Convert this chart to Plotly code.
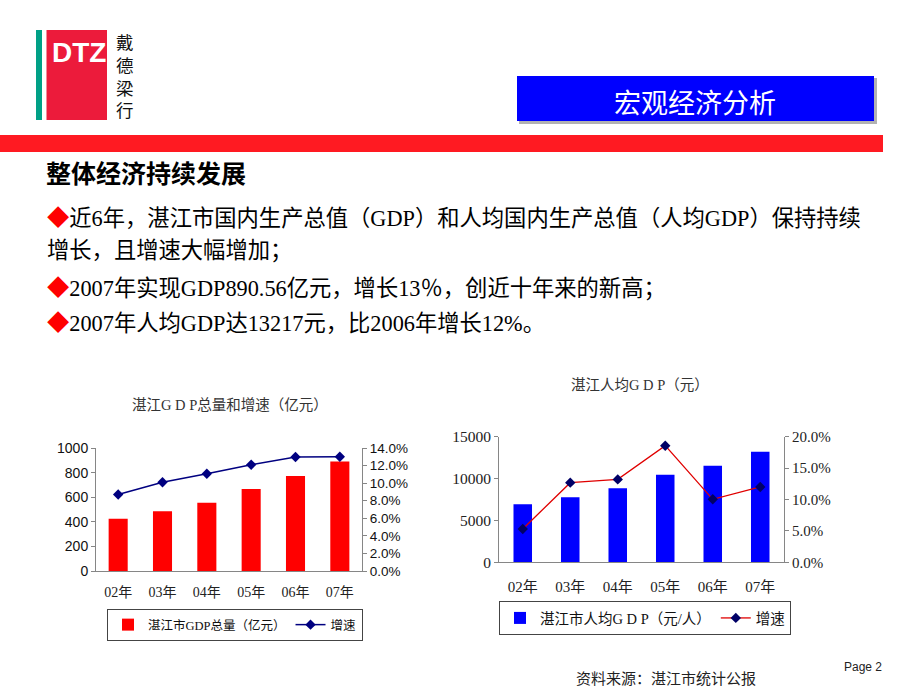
import plotly.graph_objects as go

W, H = 920, 690

def px(x):
    return x / W

def py(y):
    return 1 - y / H

# ---------------- data ----------------
years = ["02年", "03年", "04年", "05年", "06年", "07年"]
gdp_total = [424, 486, 554, 666, 772, 890.56]          # 亿元
gdp_growth = [0.087, 0.101, 0.1107, 0.121, 0.1297, 0.13]
gdp_per_capita = [6923, 7759, 8833, 10464, 11538, 13217]  # 元/人
pc_growth = [0.053, 0.1268, 0.132, 0.1857, 0.1003, 0.12]

left_title = "湛江G D P总量和增速（亿元）"
right_title = "湛江人均G D P（元）"
left_bar_name = "湛江市GDP总量（亿元）"
right_bar_name = "湛江市人均G D P（元/人）"
line_name = "增速"

SERIF = "Liberation Serif, Noto Sans CJK SC, serif"
SANS = "Liberation Sans, Arial, Noto Sans CJK SC, sans-serif"
CJK = "Noto Sans CJK SC, sans-serif"

fig = go.Figure()

# ---------- left chart ----------
fig.add_trace(go.Bar(x=years, y=gdp_total, name=left_bar_name, xaxis="x", yaxis="y",
                     marker=dict(color="#ff0000", line=dict(width=0)), width=0.43,
                     legend="legend"))
fig.add_trace(go.Scatter(x=years, y=gdp_growth, name=line_name, xaxis="x", yaxis="y2",
                         mode="lines+markers", line=dict(color="#000080", width=1.5),
                         marker=dict(symbol="diamond", size=8, color="#000080"),
                         legend="legend"))

# ---------- right chart ----------
fig.add_trace(go.Bar(x=years, y=gdp_per_capita, name=right_bar_name, xaxis="x2", yaxis="y3",
                     marker=dict(color="#0000ff", line=dict(width=0)), width=0.39,
                     legend="legend2"))
fig.add_trace(go.Scatter(x=years, y=pc_growth, name=line_name, xaxis="x2", yaxis="y4",
                         mode="lines+markers", line=dict(color="#e00000", width=1.3),
                         marker=dict(symbol="diamond", size=8, color="#000066"),
                         legend="legend2"))

axis_line = "#868686"

fig.update_layout(
    width=W, height=H, margin=dict(l=0, r=0, t=0, b=0, autoexpand=False),
    paper_bgcolor="white", plot_bgcolor="rgba(0,0,0,0)",
    showlegend=True,
    xaxis=dict(domain=[px(96), px(362)], anchor="y", range=[-0.5, 5.5], type="category",
               showline=True, linecolor=axis_line, ticks="", showgrid=False,
               tickfont=dict(family=SERIF, size=14, color="#222"), ticklabelstandoff=8),
    yaxis=dict(domain=[py(571), py(448)], anchor="x", range=[0, 1000], dtick=200,
               showline=True, linecolor=axis_line, ticks="outside", ticklen=4, tickcolor=axis_line,
               showgrid=False, zeroline=False,
               tickfont=dict(family=SANS, size=14, color="#111")),
    yaxis2=dict(overlaying="y", side="right", anchor="x", range=[0, 0.14], dtick=0.02,
                tickformat=".1%", showline=True, linecolor=axis_line, ticks="outside", ticklen=4,
                tickcolor=axis_line, showgrid=False, zeroline=False,
                tickfont=dict(family=SANS, size=13.5, color="#111")),
    xaxis2=dict(domain=[px(499), px(784)], anchor="y3", range=[-0.5, 5.5], type="category",
                showline=True, linecolor=axis_line, ticks="", showgrid=False,
                tickfont=dict(family=SERIF, size=15, color="#222"), ticklabelstandoff=11),
    yaxis3=dict(domain=[py(562.3), py(436.7)], anchor="x2", range=[0, 15000], dtick=5000,
                tickformat="d",
                showline=True, linecolor=axis_line, ticks="outside", ticklen=4, tickcolor=axis_line,
                showgrid=False, zeroline=False,
                tickfont=dict(family=SERIF, size=15.5, color="#222")),
    yaxis4=dict(overlaying="y3", side="right", anchor="x2", range=[0, 0.2], dtick=0.05,
                tickformat=".1%", showline=True, linecolor=axis_line, ticks="outside", ticklen=4,
                tickcolor=axis_line, showgrid=False, zeroline=False,
                tickfont=dict(family=SERIF, size=15, color="#222")),
    legend=dict(orientation="h", x=px(107), y=py(609), xanchor="left", yanchor="top",
                bordercolor="#444", borderwidth=1, bgcolor="white",
                font=dict(family=SERIF, size=12.5, color="#111"), itemwidth=30,
                tracegroupgap=0),
    legend2=dict(orientation="h", x=px(499), y=py(601), xanchor="left", yanchor="top",
                 bordercolor="#444", borderwidth=1, bgcolor="white",
                 font=dict(family=SERIF, size=14.5, color="#111"), itemwidth=30),
)

shapes = []
# logo
shapes.append(dict(type="rect", xref="paper", yref="paper", x0=px(36), x1=px(42), y0=py(120), y1=py(30),
                   fillcolor="#00a086", line=dict(width=0)))
shapes.append(dict(type="rect", xref="paper", yref="paper", x0=px(46.5), x1=px(107), y0=py(120), y1=py(30),
                   fillcolor="#ec1b3b", line=dict(width=0)))
# title box shadow + box
shapes.append(dict(type="rect", xref="paper", yref="paper", x0=px(519), x1=px(877), y0=py(124), y1=py(78),
                   fillcolor="rgba(0,0,0,0.30)", line=dict(width=0)))
shapes.append(dict(type="rect", xref="paper", yref="paper", x0=px(517), x1=px(874), y0=py(121), y1=py(76),
                   fillcolor="#0000ff", line=dict(width=0)))
# red band
shapes.append(dict(type="rect", xref="paper", yref="paper", x0=0, x1=px(883), y0=py(152), y1=py(135),
                   fillcolor="#ff1a22", line=dict(width=0)))
fig.update_layout(shapes=shapes)

ann = []
def text(x, y, s, size, family=CJK, color="#000", xanchor="left", yanchor="middle", weight=None):
    f = dict(family=family, size=size, color=color)
    if weight:
        f["weight"] = weight
    ann.append(dict(x=px(x), y=py(y), xref="paper", yref="paper", text=s, showarrow=False,
                    xanchor=xanchor, yanchor=yanchor, font=f))

text(79, 52, "DTZ", 28, family=SANS, color="white", xanchor="center", weight="bold")
text(125, 75, "戴<br>德<br>梁<br>行", 17.5, color="#111", xanchor="center")
text(695, 101, "宏观经济分析", 27, color="white", xanchor="center")
text(44, 172, "<b>整体经济持续发展</b>", 25, color="#000")

DIA = "<span style='color:#ff0000'>◆</span>"
body_font = "Liberation Serif, Noto Sans CJK SC, serif"
BS = 22.3
text(45, 218, DIA + "近6年，湛江市国内生产总值（GDP）和人均国内生产总值（人均GDP）保持持续", BS, family=body_font)
text(45, 250, "增长，且增速大幅增加；", BS, family=body_font)
text(45, 288, DIA + "2007年实现GDP890.56亿元，增长13％，创近十年来的新高；", BS, family=body_font)
text(45, 323, DIA + "2007年人均GDP达13217元，比2006年增长12%。", BS, family=body_font)

text(230, 405, left_title, 14.5, family=SERIF, color="#333", xanchor="center")
text(640, 385, right_title, 14.5, family=SERIF, color="#333", xanchor="center")

text(666, 677, "资料来源：湛江市统计公报", 15, family=CJK, color="#222", xanchor="center")
text(863, 667, "Page 2", 12, family=SANS, color="#222", xanchor="center")

fig.update_layout(annotations=ann)

fig.write_html("out.html", post_script="document.body.style.margin='0';")
